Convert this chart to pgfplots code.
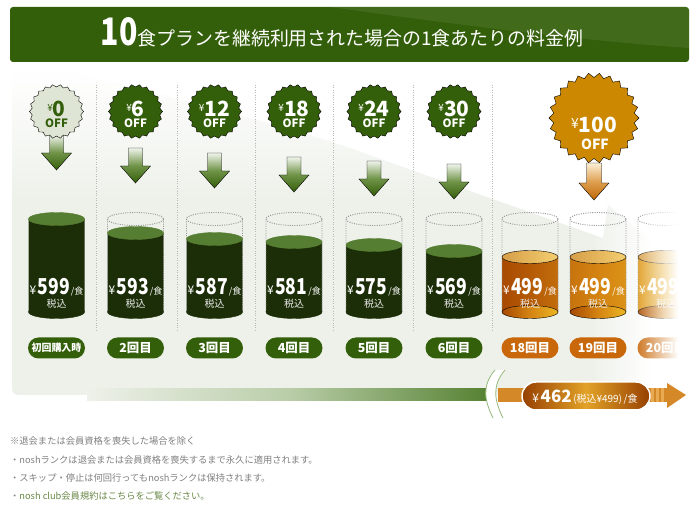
\documentclass[border=0pt]{standalone}
\usepackage{pgfplots}
\pgfplotsset{compat=1.18}
\usepackage{pgfplotstable}
\usepackage{fontspec}
\setmainfont{Noto Sans CJK JP}
\usepackage{graphicx}
\usetikzlibrary{fadings}

\definecolor{dkgreen}{RGB}{52,95,10}
\definecolor{cylbody}{RGB}{28,46,7}
\definecolor{cyltop}{RGB}{86,126,50}
\definecolor{orgL}{RGB}{168,74,2}
\definecolor{orgM}{RGB}{212,132,18}
\definecolor{orgR}{RGB}{236,182,36}
\definecolor{orgtopL}{RGB}{214,158,72}
\definecolor{orgtopR}{RGB}{244,206,112}
\definecolor{pillorg}{RGB}{200,104,10}
\definecolor{badgeorg}{RGB}{204,136,0}
\definecolor{paleg}{RGB}{222,229,212}
\definecolor{notegray}{RGB}{128,128,128}
\definecolor{notegreen}{RGB}{105,135,70}
\definecolor{panelbg}{RGB}{238,241,234}
\definecolor{outl}{RGB}{150,150,150}
\definecolor{sepgray}{RGB}{185,185,185}
\definecolor{arrtop}{RGB}{240,244,235}
\definecolor{arrmid}{RGB}{112,148,72}
\definecolor{oarrtop}{RGB}{252,240,215}
\definecolor{oarrmid}{RGB}{222,160,80}
\definecolor{oarrbot}{RGB}{192,102,4}
\definecolor{bandgreen}{RGB}{84,128,48}
\definecolor{bandmid}{RGB}{185,205,168}
\definecolor{bandorg}{RGB}{212,136,40}
\definecolor{bandlight}{RGB}{232,170,80}
\definecolor{pillL}{RGB}{150,64,2}
\definecolor{pillM}{RGB}{226,162,40}
\definecolor{breakgreen}{RGB}{150,185,120}

\newcommand\fs[1]{\fontsize{#1}{#1}\selectfont}

\tikzfading[name=fadeR, left color=transparent!100, right color=transparent!0]

\pgfdeclareplotmark{gtop}{\fill[cyltop] (0bp,0bp) ellipse (28bp and 6.5bp);}
\pgfdeclareplotmark{gbot}{\fill[cylbody] (0bp,0bp) ellipse (28bp and 6.5bp);}
\pgfdeclareplotmark{otop}{\shade[left color=orgtopL, right color=orgtopR] (0bp,0bp) ellipse (28bp and 6.5bp);}
\pgfdeclareplotmark{obot}{\shade[left color=orgL, right color=orgR, middle color=orgM] (0bp,0bp) ellipse (28bp and 6.5bp);}
\pgfdeclareplotmark{cylout}{\draw[outl, line width=0.9bp, dash pattern=on 1bp off 1.3bp] (0bp,0bp) ellipse (28bp and 6.5bp) (-28bp,0bp) -- (-28bp,-93bp) (28bp,0bp) -- (28bp,-93bp);}
\pgfdeclareplotmark{garrow}{\shade[top color=arrtop, bottom color=dkgreen, middle color=arrmid] (-7bp,35bp) -- (7bp,35bp) -- (7bp,17bp) -- (15bp,17bp) -- (0bp,0bp) -- (-15bp,17bp) -- (-7bp,17bp) -- cycle;}
\pgfdeclareplotmark{oarrow}{\shade[top color=oarrtop, bottom color=oarrbot, middle color=oarrmid] (-7.5bp,37bp) -- (7.5bp,37bp) -- (7.5bp,17bp) -- (15bp,17bp) -- (0bp,0bp) -- (-15bp,17bp) -- (-7.5bp,17bp) -- cycle;}
\pgfdeclareplotmark{burst}{\fill (0:27bp) \foreach \i in {1,...,22}{ -- ({(\i-0.5)*360/22}:24.5bp) -- ({\i*360/22}:27bp)} -- cycle;}
\pgfdeclareplotmark{oburst}{\fill (0:45bp) \foreach \i in {1,...,26}{ -- ({(\i-0.5)*360/26}:40.5bp) -- ({\i*360/26}:45bp)} -- cycle;}

\pgfplotstableread{
x h price step off tip
56.5 93 599 初回購入時 0 142
135.5 79 593 2回目 6 129
214.5 73 587 3回目 12 124
294 70 581 4回目 18 120
374 67 575 5回目 24 116
454 61 569 6回目 30 113
}\greencyl
\pgfplotstableread{
x h price step
530 55 499 18回目
598 55 499 19回目
666 55 499 20回目
}\orangecyl

\pgfplotsset{
  txt/.style={only marks, mark=*, mark size=0pt, mark options={draw=none, fill=none}, point meta=explicit symbolic},
  price/.style={txt, nodes near coords={{\fs{12}¥}\hspace{1.5bp}{\scalebox{0.8}[1]{\fs{22}\bfseries\pgfplotspointmeta}}\hspace{1bp}{\fs{9}/食}},
    every node near coord/.append style={anchor=base, text=white, inner sep=0pt}},
}

\begin{document}
\begin{tikzpicture}
% ---------- background (pixel coordinates) ----------
\begin{scope}[x=1bp, y=-1bp, shift={(0,508bp)}]
  \fill[white] (0,0) rectangle (700,508);
  \begin{scope}
    \clip[rounded corners=6bp] (12,60) rectangle (700,395);
    \shade[top color=white, bottom color=panelbg] (12,68) rectangle (700,200);
    \fill[panelbg] (12,200) rectangle (700,395);
    \fill[white] (60,60) -- (60,68) .. controls (200,105) and (300,130) .. (350,148) -- (490,198) -- (603,238) -- (700,238) -- (700,60) -- cycle;
    \fill[panelbg] (603,238) -- (608,205) -- (650,240) -- (600,290) -- cycle;
  \end{scope}
  \fill[white, path fading=fadeR] (590,60) rectangle (650,400);
  \fill[white] (650,60) rectangle (700,400);
  \fill[white] (0,60) rectangle (700,68);
  % banner
  \fill[dkgreen, rounded corners=3bp] (10,7) rectangle (689,62);
  \begin{scope}
    \clip[rounded corners=3bp] (10,7) rectangle (689,62);
    \fill[white, opacity=0.07] (330,7) .. controls (480,28) and (600,42) .. (689,48) -- (689,7) -- cycle;
  \end{scope}
  \node[anchor=base, text=white, inner sep=0pt] at (342,46) {\scalebox{0.8}[1]{\fs{38}\bfseries 10}\fs{19}食プランを継続利用された場合の1食あたりの料金例};
  % separators
  \foreach \x in {96,177,255,333,413,492}
    \draw[sepgray, line width=0.7bp, dash pattern=on 0.8bp off 1.6bp] (\x,85) -- (\x,332);
\end{scope}

\begin{axis}[x=1bp, y=1bp, xmin=0, xmax=700, ymin=-196, ymax=312,
  hide axis, clip=false, anchor=south west, at={(0,0)}]
  % dotted outlines of full cylinders
  \addplot[only marks, mark=cylout, skip coords between index={0}{1}] table[x=x, y expr=93] {\greencyl};
  \addplot[only marks, mark=cylout] table[x=x, y expr=93] {\orangecyl};
  % bottoms
  \addplot[only marks, mark=gbot] table[x=x, y expr=0] {\greencyl};
  \addplot[only marks, mark=obot] table[x=x, y expr=0] {\orangecyl};
  % bodies
  \addplot[ybar, bar width=56bp, bar shift=0pt, fill=cylbody, draw=none] table[x=x, y=h] {\greencyl};
  \addplot[ybar, bar width=56bp, bar shift=0pt, draw=none, left color=orgL, right color=orgR, middle color=orgM] table[x=x, y=h] {\orangecyl};
  % tops
  \addplot[only marks, mark=gtop] table[x=x, y=h] {\greencyl};
  \addplot[only marks, mark=otop] table[x=x, y=h] {\orangecyl};
  % price labels
  \addplot[price] table[x=x, y expr=17, meta=price] {\greencyl};
  \addplot[price] table[x=x, y expr=17, meta=price] {\orangecyl};
  \addplot[txt, nodes near coords={\fs{10}税込},
    every node near coord/.append style={anchor=base, text=white!92!black, inner sep=0pt}] table[x=x, y expr=4, meta=price] {\greencyl};
  \addplot[txt, nodes near coords={\fs{10}税込},
    every node near coord/.append style={anchor=base, text=white!92!black, inner sep=0pt}] table[x=x, y expr=4, meta=price] {\orangecyl};
  % pills
  \addplot[txt, skip coords between index={1}{6}, nodes near coords={\pgfplotspointmeta},
    every node near coord/.append style={anchor=center, fill=dkgreen, text=white, rounded corners=10.5bp, minimum width=57bp, minimum height=21bp, inner sep=0pt, font=\fs{10}\bfseries}] table[x=x, y expr=-36, meta=step] {\greencyl};
  \addplot[txt, skip coords between index={0}{1}, nodes near coords={\pgfplotspointmeta},
    every node near coord/.append style={anchor=center, fill=dkgreen, text=white, rounded corners=10.5bp, minimum width=57bp, minimum height=21bp, inner sep=0pt, font=\fs{12.5}\bfseries}] table[x=x, y expr=-36, meta=step] {\greencyl};
  \addplot[txt, nodes near coords={\pgfplotspointmeta},
    every node near coord/.append style={anchor=center, fill=pillorg, text=white, rounded corners=10.5bp, minimum width=57bp, minimum height=21bp, inner sep=0pt, font=\fs{12.5}\bfseries}] table[x=x, y expr=-36, meta=step] {\orangecyl};
  % arrows
  \addplot[only marks, mark=garrow] table[x=x, y=tip] {\greencyl};
  \addplot[only marks, mark=oarrow] coordinates {(594,112)};
  % badges
  \addplot[only marks, mark=burst, mark options={fill=paleg, draw=none}, skip coords between index={1}{6}] table[x=x, y expr=200.5] {\greencyl};
  \addplot[only marks, mark=burst, mark options={fill=dkgreen, draw=none}, skip coords between index={0}{1}] table[x=x, y expr=200.5] {\greencyl};
  \addplot[only marks, mark=oburst, mark options={fill=badgeorg, draw=none}] coordinates {(594,194)};
  \addplot[txt, skip coords between index={1}{6}, nodes near coords={\raisebox{4.5bp}{\fs{10}¥}{\fs{21}\bfseries\pgfplotspointmeta}},
    every node near coord/.append style={anchor=base, text=dkgreen, inner sep=0pt}] table[x=x, y expr=195.5, meta=off] {\greencyl};
  \addplot[txt, skip coords between index={0}{1}, nodes near coords={\raisebox{4.5bp}{\fs{10}¥}{\fs{21}\bfseries\pgfplotspointmeta}},
    every node near coord/.append style={anchor=base, text=white, inner sep=0pt}] table[x=x, y expr=195.5, meta=off] {\greencyl};
  \addplot[txt, skip coords between index={1}{6}, nodes near coords={\fs{11.5}\bfseries OFF},
    every node near coord/.append style={anchor=base, text=dkgreen, inner sep=0pt}] table[x=x, y expr=184, meta=off] {\greencyl};
  \addplot[txt, skip coords between index={0}{1}, nodes near coords={\fs{11.5}\bfseries OFF},
    every node near coord/.append style={anchor=base, text=white, inner sep=0pt}] table[x=x, y expr=184, meta=off] {\greencyl};
  \addplot[txt, nodes near coords={\raisebox{4.5bp}{\fs{14}¥}{\fs{21}\bfseries\pgfplotspointmeta}},
    every node near coord/.append style={anchor=base, text=white, inner sep=0pt}] coordinates {(594,179) [100]};
  \addplot[txt, nodes near coords={\fs{14}\bfseries OFF},
    every node near coord/.append style={anchor=base, text=white, inner sep=0pt}] coordinates {(595,162) [100]};
  \node[anchor=base, text=white, inner sep=0pt] at (axis cs:594,204) {\fs{16}永久に};
  \node[text={rgb,255:red,255;green,225;blue,170}, inner sep=0pt] at (axis cs:604,226) {\fs{6}※};
\end{axis}

% ---------- overlays (pixel coordinates) ----------
\begin{scope}[x=1bp, y=-1bp, shift={(0,508bp)}]
  \fill[white, path fading=fadeR] (632,195) rectangle (678,372);
  \fill[white] (678,195) rectangle (700,372);
  % bottom band
  \shade[left color=panelbg, right color=bandgreen, middle color=bandmid] (87,389) rectangle (492,401);
  \fill[bandorg] (498,388) rectangle (668,402);
  \foreach \x in {651,656,661} \fill[bandlight] (\x,388) rectangle (\x+2.5,402);
  \fill[bandorg] (667,383) -- (686,395) -- (667,408) -- cycle;
  \fill[white] (495,370) .. controls (482,385) and (484,400) .. (493,418) -- (503,418) .. controls (494,400) and (492,385) .. (505,370) -- cycle;
  \draw[breakgreen, line width=0.8bp] (495,370) .. controls (482,385) and (484,400) .. (493,418);
  \draw[breakgreen, line width=0.8bp] (505,370) .. controls (492,385) and (494,400) .. (503,418);
  \shadedraw[rounded corners=14bp, left color=pillL, right color=pillL, middle color=pillM, draw=white, line width=1.5bp] (522,382) rectangle (650,410);
  \node[anchor=base, text=white, inner sep=0pt] at (585,403) {{\fs{12}¥}\,{\fs{17}\bfseries 462}\,{\fs{10}(税込¥499)}\,{\fs{10}/食}};
  % notes
  \node[anchor=base west, inner sep=0pt, text=notegray] at (10,445) {\fs{9.3}※退会または会員資格を喪失した場合を除く};
  \node[anchor=base west, inner sep=0pt, text=notegray] at (10,464) {\fs{9.3}・noshランクは退会または会員資格を喪失するまで永久に適用されます。};
  \node[anchor=base west, inner sep=0pt, text=notegray] at (10,482) {\fs{9.3}・スキップ・停止は何回行ってもnoshランクは保持されます。};
  \node[anchor=base west, inner sep=0pt, text=notegray] at (10,500) {\fs{9.3}・\textcolor{notegreen}{nosh club会員規約はこちらをご覧ください。}};
\end{scope}
\pgfresetboundingbox
\path[use as bounding box] (0,0) rectangle (700bp,508bp);
\end{tikzpicture}
\end{document}
